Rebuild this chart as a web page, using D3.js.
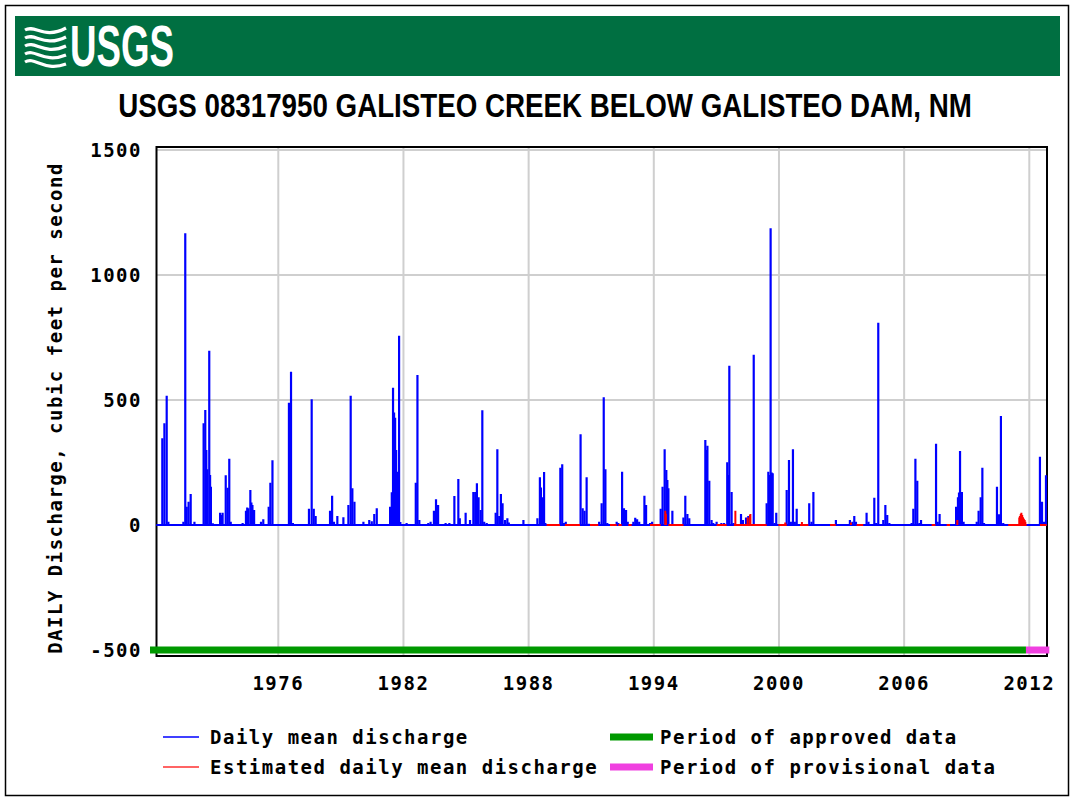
<!DOCTYPE html>
<html>
<head>
<meta charset="utf-8">
<script src="https://cdn.jsdelivr.net/npm/d3@7"></script>
<style>
  body { margin: 0; background: #fff; }
  .mono { font-family: "DejaVu Sans Mono", monospace; font-weight: bold; font-size: 19px; letter-spacing: 1.5px; fill: #000; }
</style>
</head>
<body>
<div id="chart"></div>
<script>
// ---- data ----
const yTicks = [-500, 0, 500, 1000, 1500];
const xTickYears = [1976, 1982, 1988, 1994, 2000, 2006, 2012];

// [decimal year, cfs] daily mean discharge peaks (approved)
const dailyMean = [
  [1970.44,347],[1970.54,407],[1970.65,517],[1970.73,13],
  [1971.45,13],[1971.54,1167],[1971.61,73],[1971.70,93],[1971.80,124],[1971.98,13],
  [1972.42,407],[1972.50,460],[1972.55,300],[1972.60,223],[1972.69,697],[1972.73,200],[1972.77,153],[1972.86,7],
  [1973.21,49],[1973.27,40],[1973.33,49],[1973.48,199],[1973.57,149],[1973.65,265],[1973.72,13],
  [1974.29,8],[1974.45,57],[1974.51,70],[1974.56,67],[1974.66,140],[1974.71,90],[1974.76,80],[1974.84,60],
  [1975.17,13],[1975.28,23],[1975.54,73],[1975.62,169],[1975.72,259],
  [1976.51,489],[1976.56,400],[1976.61,613],[1976.70,8],
  [1977.47,65],[1977.60,503],[1977.70,65],[1977.79,36],
  [1978.48,57],[1978.58,117],[1978.67,13],[1978.83,36],[1979.12,31],
  [1979.36,80],[1979.47,517],[1979.55,147],[1979.65,93],
  [1980.08,13],[1980.36,20],[1980.48,15],[1980.60,44],[1980.72,67],
  [1981.36,73],[1981.44,131],[1981.50,549],[1981.55,450],[1981.60,429],[1981.65,300],[1981.69,213],[1981.79,757],[1981.85,12],
  [1982.15,8],[1982.59,169],[1982.67,600],[1982.76,20],
  [1983.19,8],[1983.30,13],[1983.46,57],[1983.56,103],[1983.66,80],
  [1984.02,8],[1984.20,8],[1984.44,116],[1984.63,184],[1984.70,27],[1984.98,49],[1985.19,20],
  [1985.35,132],[1985.44,132],[1985.48,120],[1985.52,167],[1985.60,111],[1985.70,60],[1985.78,459],[1985.87,13],
  [1985.99,8],
  [1986.42,49],[1986.50,303],[1986.59,36],[1986.67,124],[1986.75,87],[1986.87,20],[1986.98,27],[1987.05,10],
  [1987.75,20],
  [1988.42,27],[1988.54,191],[1988.59,150],[1988.64,111],[1988.74,212],[1988.80,8],
  [1989.52,229],[1989.61,243],[1989.70,8],[1989.78,13],
  [1990.49,363],[1990.59,67],[1990.68,57],[1990.78,191],[1990.88,5],
  [1991.38,13],[1991.50,87],[1991.60,511],[1991.68,223],[1991.77,8],
  [1992.22,13],[1992.30,8],[1992.48,213],[1992.57,67],[1992.67,60],[1992.75,13],
  [1993.02,13],[1993.11,29],[1993.20,23],[1993.30,13],[1993.55,117],[1993.63,80],[1993.82,8],[1993.92,13],
  [1994.33,65],[1994.42,153],[1994.52,303],[1994.60,220],[1994.65,180],[1994.70,147],[1994.89,57],
  [1995.42,30],[1995.51,117],[1995.61,44],[1995.70,27],
  [1996.47,340],[1996.52,300],[1996.57,317],[1996.66,177],[1996.77,20],[1996.85,8],[1997.01,13],
  [1997.24,8],[1997.37,8],[1997.52,251],[1997.57,200],[1997.62,637],[1997.73,132],[1997.82,8],
  [1998.18,44],[1998.27,20],[1998.42,30],[1998.53,36],[1998.79,681],
  [1999.41,87],[1999.49,213],[1999.55,200],[1999.60,1187],[1999.65,210],[1999.70,207],[1999.79,8],[1999.87,49],
  [2000.37,140],[2000.48,260],[2000.57,13],[2000.67,303],[2000.76,13],[2000.85,65],
  [2001.45,87],[2001.56,13],[2001.65,132],
  [2002.73,20],
  [2003.40,20],[2003.52,13],[2003.61,36],[2003.69,13],
  [2004.20,49],[2004.29,13],[2004.57,109],[2004.66,8],[2004.76,809],[2005.00,20],[2005.10,80],[2005.19,40],[2005.29,8],
  [2006.36,8],[2006.44,65],[2006.54,265],[2006.63,177],[2006.73,8],[2006.81,20],
  [2007.53,325],[2007.61,13],[2007.70,44],
  [2008.49,73],[2008.58,111],[2008.63,130],[2008.68,296],[2008.77,132],[2008.85,13],
  [2009.48,13],[2009.57,57],[2009.67,111],[2009.75,229],[2009.83,8],
  [2010.45,153],[2010.55,43],[2010.64,436],[2010.75,8],
  [2012.51,273],[2012.61,93],[2012.70,13],[2012.80,199]
];

// [decimal year, cfs] estimated daily mean discharge peaks
const estimatedMean = [
  [1994.55,57],[1994.58,45],[1997.91,57],[1998.50,30],[1998.61,40],[1998.63,44],
  [2000.30,10],[2001.10,12],[2003.45,10],[2008.55,20],
  [2011.52,30],[2011.55,36],[2011.59,44],[2011.62,49],[2011.66,40],[2011.70,31],[2011.74,25],[2011.78,20],[2011.81,13]
];

// estimated periods along the zero line [start, end]
const estimatedPeriods = [
  [1988.86,1989.50],[1989.74,1990.46],[1990.94,1991.34],[1991.90,1992.22],[1992.30,1992.46],
  [1992.78,1992.94],[1993.82,1994.33],[1994.70,1995.42],[1997.01,1997.49],[1997.84,1999.41],
  [1999.97,2000.37],[2001.01,2001.41],[2002.45,2002.72],[2003.72,2004.04],[2007.32,2007.50],
  [2008.04,2008.20],[2010.99,2011.87],[2012.51,2012.83]
];

const recordPeriod = [1970.15, 2012.85];
const approvedPeriod = [1969.85, 2011.84];
const provisionalPeriod = [2011.84, 2012.96];

// ---- chart ----
const width = 1073, height = 798;
const svg = d3.select("#chart").append("svg")
    .attr("width", width)
    .attr("height", height);

// outer border
svg.append("rect")
    .attr("x", 5.5).attr("y", 5.5)
    .attr("width", 1063).attr("height", 790)
    .attr("fill", "none").attr("stroke", "#000").attr("stroke-width", 1.5);

// USGS header
svg.append("rect")
    .attr("x", 15).attr("y", 16)
    .attr("width", 1045).attr("height", 60)
    .attr("fill", "#006f41");

const logo = svg.append("g").attr("fill", "none").attr("stroke", "#fff").attr("stroke-width", 3.2);
[0, 1, 2, 3, 4].forEach(i => {
    const y0 = 30 + i * 8;
    logo.append("path")
        .attr("d", `M25,${y0} C35,${y0 - 6} 44,${y0 + 10} 66,${y0 - 2 + i}`);
});

// condensed text: squeeze horizontally to a target width
function condensedText(str, cx, baseline, size, targetWidth, fill) {
    const g = svg.append("g");
    const t = g.append("text")
        .text(str)
        .attr("text-anchor", "middle")
        .style("font-family", "'Liberation Sans Narrow', 'Liberation Sans', Arial, sans-serif")
        .style("font-weight", "bold").style("font-size", size + "px")
        .attr("fill", fill);
    const w = t.node().getComputedTextLength();
    g.attr("transform", `translate(${cx}, ${baseline}) scale(${targetWidth / w}, 1)`);
}

condensedText("USGS", 122, 66, 57, 104, "#fff");
condensedText("USGS 08317950 GALISTEO CREEK BELOW GALISTEO DAM, NM", 545, 117, 33, 854, "#000");

// scales
const x = d3.scaleLinear().domain([1976, 2012]).range([278.3, 1029.3]);
const y = d3.scaleLinear().domain([-500, 1500]).range([650, 150]);

const frame = { left: 156.5, right: 1047, top: 147, bottom: 656 };

// gridlines
const grid = svg.append("g").attr("stroke", "#cfcfcf").attr("stroke-width", 2);
grid.selectAll("line.h").data(yTicks).enter().append("line")
    .attr("x1", frame.left).attr("x2", frame.right)
    .attr("y1", d => y(d)).attr("y2", d => y(d));
grid.selectAll("line.v").data(xTickYears).enter().append("line")
    .attr("x1", d => x(d)).attr("x2", d => x(d))
    .attr("y1", frame.top).attr("y2", frame.bottom);

// frame
svg.append("rect")
    .attr("x", frame.left).attr("y", frame.top)
    .attr("width", frame.right - frame.left).attr("height", frame.bottom - frame.top)
    .attr("fill", "none").attr("stroke", "#000").attr("stroke-width", 2);

// tick labels
svg.selectAll("text.ytick").data(yTicks).enter().append("text")
    .attr("class", "mono")
    .attr("x", 142).attr("y", d => y(d) + 7)
    .attr("text-anchor", "end")
    .text(d => d);
svg.selectAll("text.xtick").data(xTickYears).enter().append("text")
    .attr("class", "mono")
    .attr("x", d => x(d)).attr("y", 690)
    .attr("text-anchor", "middle")
    .text(d => d);

// y axis label
svg.append("text")
    .attr("class", "mono")
    .attr("text-anchor", "middle")
    .attr("transform", "translate(62, 408) rotate(-90)")
    .text("DAILY Discharge, cubic feet per second");

// approval period bars
svg.append("line")
    .attr("x1", x(approvedPeriod[0])).attr("x2", x(approvedPeriod[1]))
    .attr("y1", y(-500)).attr("y2", y(-500))
    .attr("stroke", "#009900").attr("stroke-width", 7);
svg.append("line")
    .attr("x1", x(provisionalPeriod[0])).attr("x2", x(provisionalPeriod[1]))
    .attr("y1", y(-500)).attr("y2", y(-500))
    .attr("stroke", "#f040e0").attr("stroke-width", 7);

// discharge: zero line + daily spikes
svg.append("line")
    .attr("x1", x(recordPeriod[0])).attr("x2", x(recordPeriod[1]))
    .attr("y1", y(0)).attr("y2", y(0))
    .attr("stroke", "#0000ff").attr("stroke-width", 2);

svg.append("g").selectAll("line").data(dailyMean).enter().append("line")
    .attr("x1", d => x(d[0])).attr("x2", d => x(d[0]))
    .attr("y1", y(0)).attr("y2", d => y(d[1]))
    .attr("stroke", "#0000ff").attr("stroke-width", 2.2);

svg.append("g").selectAll("line").data(estimatedPeriods).enter().append("line")
    .attr("x1", d => x(d[0])).attr("x2", d => x(d[1]))
    .attr("y1", y(0)).attr("y2", y(0))
    .attr("stroke", "#ff0000").attr("stroke-width", 2);

svg.append("g").selectAll("line").data(estimatedMean).enter().append("line")
    .attr("x1", d => x(d[0])).attr("x2", d => x(d[0]))
    .attr("y1", y(0)).attr("y2", d => y(d[1]))
    .attr("stroke", "#ff0000").attr("stroke-width", 2);

// legend
const legendItems = [
    { label: "Daily mean discharge", color: "#0000ff", w: 1.5, x: 163, len: 36, row: 0 },
    { label: "Estimated daily mean discharge", color: "#ff3030", w: 1.5, x: 163, len: 36, row: 1 },
    { label: "Period of approved data", color: "#009900", w: 7, x: 610, len: 43, row: 0 },
    { label: "Period of provisional data", color: "#f040e0", w: 7, x: 610, len: 43, row: 1 }
];
const legend = svg.append("g");
legendItems.forEach(item => {
    const ly = 737 + item.row * 30;
    legend.append("line")
        .attr("x1", item.x).attr("x2", item.x + item.len)
        .attr("y1", ly).attr("y2", ly)
        .attr("stroke", item.color).attr("stroke-width", item.w);
    legend.append("text")
        .attr("class", "mono")
        .attr("x", item.x + (item.len > 40 ? 50 : 47)).attr("y", ly + 7)
        .text(item.label);
});
</script>
</body>
</html>
